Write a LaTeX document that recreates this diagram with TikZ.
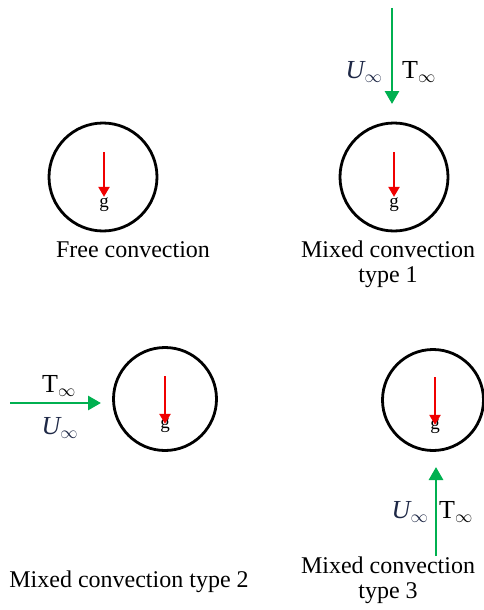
\documentclass[tikz,border=0pt]{standalone}
\usepackage{fontspec}
\setmainfont{Liberation Serif}
\usetikzlibrary{arrows.meta}
\definecolor{flowgreen}{RGB}{0,176,80}
\definecolor{gred}{RGB}{240,0,0}
\definecolor{unavy}{RGB}{30,40,70}
\newcommand{\Uinf}{\textcolor{unavy}{\itshape U$_{\infty}$}}
\newcommand{\Tinf}{T$_{\infty}$}
\begin{document}
\begin{tikzpicture}[x=1pt,y=-1pt,
  body/.style={circle,draw=black,line width=2.8pt,inner sep=0pt},
  grav/.style={draw=gred,line width=2.2pt,-{Triangle[length=10pt,width=11pt]}},
  flow/.style={draw=flowgreen,line width=2.8pt,-{Triangle[length=13pt,width=14pt]}},
  lbl/.style={font=\fontsize{24}{25}\selectfont,align=center,inner sep=0pt},
  gl/.style={font=\fontsize{19}{19}\selectfont,inner sep=0pt},
  sym/.style={font=\fontsize{26}{26}\selectfont,inner sep=0pt}]
\useasboundingbox (0,0) rectangle (484,610);

% bodies
\node[body,minimum size=108pt] (c1) at (103,177) {};
\node[body,minimum size=108pt] (c2) at (394,177) {};
\node[body,minimum size=103pt] (c3) at (165,399) {};
\node[body,minimum size=101pt] (c4) at (433,400) {};

% gravity
\node[gl] (g1) at (104,205) {g};
\coordinate (g1s) at (104,152);
\draw[grav] (g1s) -- ([yshift=1pt]g1.north);
\node[gl] (g2) at (394,205) {g};
\coordinate (g2s) at (394,152);
\draw[grav] (g2s) -- ([yshift=1pt]g2.north);
\node[gl] (g3) at (165,426) {g};
\coordinate (g3s) at (165,376);
\draw[grav] (g3s) -- ([yshift=-5pt]g3.north);
\node[gl] (g4) at (435,427) {g};
\coordinate (g4s) at (435,377);
\draw[grav] (g4s) -- ([yshift=-5pt]g4.north);

% free stream flows
\coordinate (f1s) at (392,8);
\coordinate (f1e) at (392,104);
\draw[flow] (f1s) -- (f1e);
\node[sym] (u1) at (364,72) {\Uinf};
\node[sym] (t1) at (419,72) {\Tinf};

\coordinate (f2s) at (10,403);
\coordinate (f2e) at (101,403);
\draw[flow] (f2s) -- (f2e);
\node[sym] (t2) at (59,386) {\Tinf};
\node[sym] (u2) at (60,428) {\Uinf};

\coordinate (f3s) at (436,556);
\coordinate (f3e) at (436,467);
\draw[flow] (f3s) -- (f3e);
\node[sym] (u3) at (410,512) {\Uinf};
\node[sym] (t3) at (456,512) {\Tinf};

% captions
\node[lbl] (l1) at (133,250) {Free convection};
\node[lbl] (l2) at (388,264) {Mixed convection\\type 1};
\node[lbl] (l3) at (129,582) {Mixed convection type 2};
\node[lbl] (l4) at (388,580) {Mixed convection\\type 3};
\end{tikzpicture}
\end{document}
